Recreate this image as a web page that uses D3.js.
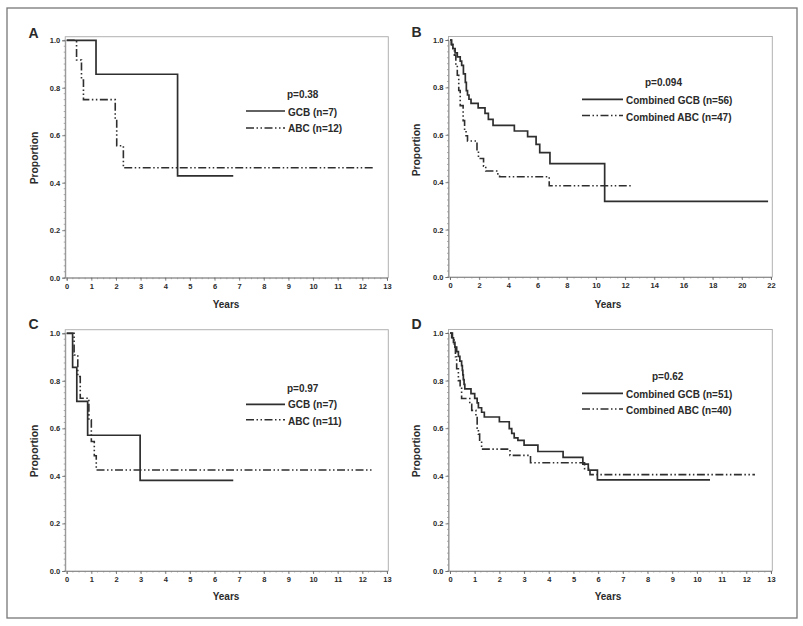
<!DOCTYPE html>
<html><head><meta charset="utf-8">
<script src="https://cdn.jsdelivr.net/npm/d3@7"></script>
<style>body{margin:0;background:#fff}svg{display:block}text{font-family:"Liberation Sans",Arial,sans-serif;font-weight:bold;fill:#2a2a2a}</style>
</head><body><svg id="c" width="803" height="626"></svg>
<script>
// ---- data ----
const panelLetters = ["A", "B", "C", "D"];
const pValues = ["p=0.38", "p=0.094", "p=0.97", "p=0.62"];
const gcbLabels = ["GCB (n=7)", "Combined GCB (n=56)", "GCB (n=7)", "Combined GCB (n=51)"];
const abcLabels = ["ABC (n=12)", "Combined ABC (n=47)", "ABC (n=11)", "Combined ABC (n=40)"];
const xMax = [13, 22, 13, 13];
const xTicks13 = [0,1,2,3,4,5,6,7,8,9,10,11,12,13];
const xTicks22 = [0,2,4,6,8,10,12,14,16,18,20,22];
const yTicks = [0.0, 0.2, 0.4, 0.6, 0.8, 1.0];

// Panel A
const aGcbT = [0, 1.19, 4.5];
const aGcbS = [1, 0.857, 0.429];
const aGcbEnd = 6.76;
const aAbcT = [0, 0.4, 0.6, 0.68, 1.97, 2.03, 2.3];
const aAbcS = [1, 0.917, 0.833, 0.75, 0.667, 0.556, 0.463];
const aAbcEnd = 12.5;
// Panel B
const bGcbT = [0, 0.1, 0.2, 0.35, 0.5, 0.7, 0.8, 0.92, 1.05, 1.12, 1.2, 1.3, 1.44, 1.93, 2.4, 2.63, 2.95, 4.41, 5.32, 5.9, 6.15, 6.85, 10.6];
const bGcbS = [1, 0.982, 0.964, 0.946, 0.929, 0.911, 0.893, 0.857, 0.821, 0.786, 0.768, 0.75, 0.733, 0.714, 0.69, 0.665, 0.64, 0.616, 0.592, 0.56, 0.525, 0.478, 0.319];
const bGcbEnd = 21.8;
const bAbcT = [0, 0.1, 0.2, 0.3, 0.4, 0.5, 0.6, 0.7, 0.9, 1.0, 1.1, 1.2, 1.85, 1.95, 2.3, 2.45, 3.2, 3.4, 6.8];
const bAbcS = [1, 0.979, 0.957, 0.936, 0.894, 0.851, 0.787, 0.723, 0.66, 0.617, 0.596, 0.574, 0.532, 0.5, 0.468, 0.447, 0.435, 0.423, 0.385];
const bAbcEnd = 12.4;
// Panel C
const cGcbT = [0, 0.24, 0.41, 0.85, 2.98];
const cGcbS = [1, 0.857, 0.714, 0.571, 0.381];
const cGcbEnd = 6.76;
const cAbcT = [0, 0.3, 0.45, 0.55, 0.9, 1.0, 1.12, 1.2];
const cAbcS = [1, 0.909, 0.818, 0.727, 0.636, 0.545, 0.485, 0.425];
const cAbcEnd = 12.4;
// Panel D
const dGcbT = [0, 0.07, 0.14, 0.2, 0.27, 0.34, 0.4, 0.47, 0.5, 0.52, 0.54, 0.57, 0.6, 0.85, 1.0, 1.1, 1.15, 1.28, 1.39, 2.0, 2.4, 2.5, 2.6, 2.75, 3.0, 3.56, 4.58, 5.38, 5.6, 5.97];
const dGcbS = [1, 0.98, 0.961, 0.941, 0.922, 0.902, 0.882, 0.863, 0.843, 0.824, 0.804, 0.784, 0.765, 0.745, 0.725, 0.706, 0.686, 0.667, 0.647, 0.627, 0.598, 0.578, 0.559, 0.549, 0.529, 0.502, 0.477, 0.449, 0.424, 0.383];
const dGcbEnd = 10.53;
const dAbcT = [0, 0.1, 0.17, 0.22, 0.27, 0.34, 0.41, 0.47, 0.8, 0.88, 1.05, 1.1, 1.15, 1.2, 1.28, 2.43, 3.26, 5.45, 5.67];
const dAbcS = [1, 0.975, 0.95, 0.9, 0.85, 0.8, 0.775, 0.725, 0.7, 0.675, 0.65, 0.6, 0.575, 0.55, 0.512, 0.486, 0.455, 0.43, 0.405];
const dAbcEnd = 12.35;

// ---- layout ----
const layout = [
  {x0: 66.7, x1: 387, y1: 40.3, y0: 277.7, letter: [28.5, 37.5], years: [226, 307.5], prop: [38, 158], p: [287, 98], leg: [246, 285, 288, 111, 128, 115.5, 132], minor: 0.25},
  {x0: 450, x1: 771, y1: 40, y0: 277, letter: [411.5, 36.5], years: [608, 307.5], prop: [420, 150], p: [645, 85.5], leg: [582, 623, 626, 99.3, 115.5, 103.5, 120.5], minor: 0.5},
  {x0: 66.7, x1: 387, y1: 333.3, y0: 571, letter: [28.5, 328.5], years: [226, 600], prop: [38, 451], p: [287, 392], leg: [246, 285, 288, 404.3, 419.8, 408, 424.5], minor: 0.25},
  {x0: 450, x1: 771, y1: 333, y0: 571, letter: [411.5, 328.5], years: [608, 600], prop: [420, 451], p: [652, 380], leg: [582, 623, 626, 393.3, 409, 397.5, 413.5], minor: 0.25}
];
const series = [
  [[aGcbT, aGcbS, aGcbEnd], [aAbcT, aAbcS, aAbcEnd]],
  [[bGcbT, bGcbS, bGcbEnd], [bAbcT, bAbcS, bAbcEnd]],
  [[cGcbT, cGcbS, cGcbEnd], [cAbcT, cAbcS, cAbcEnd]],
  [[dGcbT, dGcbS, dGcbEnd], [dAbcT, dAbcS, dAbcEnd]]
];
const dashABC = "8,2.5,1.5,2.5,1.5,2.5";
const lineCol = "#2e2e2e";

const svg = d3.select("#c");
svg.append("rect").attr("x", 7).attr("y", 8).attr("width", 790).attr("height", 610)
  .attr("fill", "none").attr("stroke", "#777").attr("stroke-width", 1.3);

layout.forEach((L, i) => {
  const x = d3.scaleLinear().domain([0, xMax[i]]).range([L.x0, L.x1]);
  const y = d3.scaleLinear().domain([0, 1]).range([L.y0, L.y1]);
  const g = svg.append("g");
  // frame
  const fx0 = x(-0.06 * xMax[i] / 13), fx1 = x(xMax[i] * 1.004), fy1 = y(1.015);
  g.append("rect").attr("x", fx0).attr("y", fy1).attr("width", fx1 - fx0).attr("height", L.y0 - fy1)
    .attr("fill", "none").attr("stroke", "#a8a8a8").attr("stroke-width", 0.9);
  // minor ticks
  const yMinor = d3.range(0, 1.0001, 0.025);
  g.selectAll(".ym").data(yMinor).join("line")
    .attr("x1", fx0).attr("x2", fx0 - 1.5).attr("y1", d => y(d)).attr("y2", d => y(d))
    .attr("stroke", "#888").attr("stroke-width", 0.7);
  const xMinor = d3.range(0, xMax[i] + 0.0001, L.minor);
  g.selectAll(".xm").data(xMinor).join("line")
    .attr("x1", d => x(d)).attr("x2", d => x(d)).attr("y1", L.y0).attr("y2", L.y0 + 1.5)
    .attr("stroke", "#888").attr("stroke-width", 0.7);
  // axes
  const xa = d3.axisBottom(x).tickValues(xMax[i] === 22 ? xTicks22 : xTicks13).tickSize(3).tickPadding(3).tickFormat(d3.format("d"));
  const xg = g.append("g").attr("transform", `translate(0,${L.y0})`).call(xa);
  const ya = d3.axisLeft(y).tickValues(yTicks).tickSize(3).tickPadding(2).tickFormat(d3.format(".1f"));
  const yg = g.append("g").attr("transform", `translate(${fx0},0)`).call(ya);
  [xg, yg].forEach(a => {
    a.select(".domain").attr("stroke", "#888").attr("stroke-width", 0.9);
    a.selectAll(".tick line").attr("stroke", "#666").attr("stroke-width", 0.8);
    a.selectAll(".tick text").attr("font-size", 7.5).attr("font-weight", "bold")
      .attr("font-family", '"Liberation Sans",Arial,sans-serif').attr("fill", "#2a2a2a");
  });
  // curves
  const line = d3.line().x(d => x(d[0])).y(d => y(d[1])).curve(d3.curveStepAfter);
  series[i].forEach((s, k) => {
    const [T, S, end] = s;
    const pts = T.map((t, j) => [t, S[j]]);
    pts.push([end, S[S.length - 1]]);
    g.append("path").attr("d", line(pts)).attr("fill", "none").attr("stroke", lineCol)
      .attr("stroke-width", k === 0 ? 1.7 : 1.6).attr("stroke-dasharray", k === 0 ? null : dashABC);
  });
  // labels
  g.append("text").attr("x", L.letter[0]).attr("y", L.letter[1]).attr("font-size", 14).text(panelLetters[i]);
  g.append("text").attr("x", L.years[0]).attr("y", L.years[1]).attr("text-anchor", "middle").attr("font-size", 10).text("Years");
  g.append("text").attr("transform", `translate(${L.prop[0]},${L.prop[1]}) rotate(-90)`)
    .attr("text-anchor", "middle").attr("font-size", 10.3).text("Proportion");
  // legend
  g.append("text").attr("x", L.p[0]).attr("y", L.p[1]).attr("font-size", 10).text(pValues[i]);
  const [lx0, lx1, tx, ly1, ly2, ty1, ty2] = L.leg;
  g.append("line").attr("x1", lx0).attr("x2", lx1).attr("y1", ly1).attr("y2", ly1).attr("stroke", lineCol).attr("stroke-width", 1.7);
  g.append("line").attr("x1", lx0).attr("x2", lx1).attr("y1", ly2).attr("y2", ly2).attr("stroke", lineCol).attr("stroke-width", 1.6).attr("stroke-dasharray", dashABC);
  g.append("text").attr("x", tx).attr("y", ty1).attr("font-size", 10).text(gcbLabels[i]);
  g.append("text").attr("x", tx).attr("y", ty2).attr("font-size", 10).text(abcLabels[i]);
});
</script></body></html>
